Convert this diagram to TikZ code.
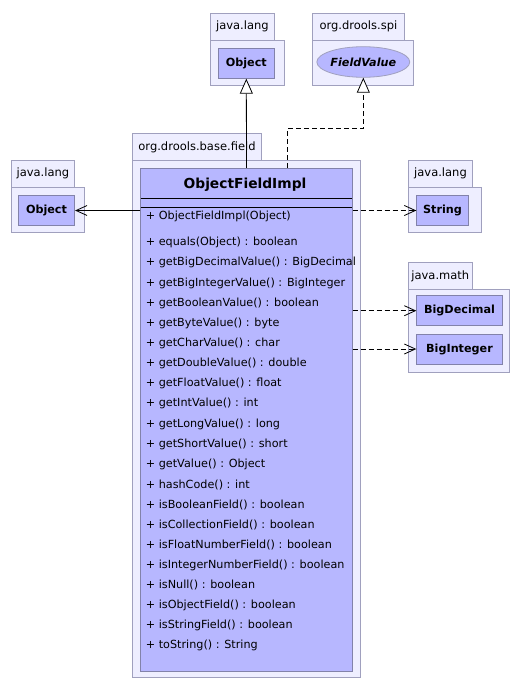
\documentclass[tikz,border=0pt]{standalone}
\usepackage{fontspec}
\setmainfont{DejaVu Sans}
\usetikzlibrary{arrows.meta,shapes.geometric}

\definecolor{pkgfill}{RGB}{238,238,255}
\definecolor{pkgline}{RGB}{160,160,190}
\definecolor{clsfill}{RGB}{183,183,255}
\definecolor{clsline}{RGB}{130,130,170}

\begin{document}
\begin{tikzpicture}
[
	x	= 1pt,	% one unit per pixel of the layout
	y	= -1pt,	% rows counted downwards
	pkgbox/.style	= {draw = pkgline, fill = pkgfill, line width = 0.8pt},
	pkgname/.style	= {inner sep = 0pt, font = \fontsize{11.5}{13}\selectfont},
	clsbox/.style	= {shape = rectangle, draw = clsline, fill = clsfill, line width = 0.8pt, inner sep = 0pt, font = \bfseries\fontsize{11.2}{13}\selectfont},
	ifbox/.style	= {shape = ellipse, draw = pkgline, fill = clsfill, line width = 0.8pt, inner sep = 0pt, font = \bfseries\itshape\fontsize{11.2}{13}\selectfont},
	member/.style	= {anchor = west, inner sep = 0pt, font = \fontsize{11.2}{13}\selectfont},
	inherit/.style	= {line width = 0.8pt, -{Triangle[open, length = 15pt, width = 13pt, fill = white]}},
	uses/.style	= {line width = 0.8pt, -{Straight Barb[length = 11pt, width = 10pt]}},
	dashline/.style	= {dash pattern = on 5pt off 3pt},
]

{
	\useasboundingbox [fill = white] (0,0) rectangle (521,693);

	% packages
	\draw [pkgbox] (210.7,13.3) rectangle (274,40);
	\draw [pkgbox] (210.7,40) rectangle (284.3,85);
	\node (lLangTop) [pkgname] at (242.4,26.7) {java.lang};

	\draw [pkgbox] (312.7,13.3) rectangle (404,40);
	\draw [pkgbox] (312.7,40) rectangle (413.3,85);
	\node (lSpi) [pkgname] at (358.4,26.7) {org.drools.spi};

	\draw [pkgbox] (132.3,133.3) rectangle (261.7,160.7);
	\draw [pkgbox] (132.3,160.7) rectangle (360,677.7);
	\node (lField) [pkgname] at (197,147) {org.drools.base.field};

	\draw [pkgbox] (11.7,160) rectangle (74,187.3);
	\draw [pkgbox] (11.7,187.3) rectangle (84.3,232.7);
	\node (lLangLeft) [pkgname] at (42.9,173.7) {java.lang};

	\draw [pkgbox] (408.3,160) rectangle (472.7,187.3);
	\draw [pkgbox] (408.3,187.3) rectangle (481.7,232.7);
	\node (lLangRight) [pkgname] at (440.5,173.7) {java.lang};

	\draw [pkgbox] (408.3,262.7) rectangle (472.3,289.3);
	\draw [pkgbox] (408.3,289.3) rectangle (509.3,372.3);
	\node (lMath) [pkgname] at (440.3,276) {java.math};

	% nodes declaration
	\node (nObjTop) [clsbox, minimum width = 56pt, minimum height = 30pt] at (246.3,63.3) {Object};
	\node (nFieldValue) [ifbox, minimum width = 86.7pt, minimum height = 30.6pt] at (363.3,62) {FieldValue};
	\node (nObjLeft) [clsbox, minimum width = 56.4pt, minimum height = 29.6pt] at (46.5,210.5) {Object};
	\node (nString) [clsbox, minimum width = 51.6pt, minimum height = 29.6pt] at (442.5,210.5) {String};
	\node (nBigDec) [clsbox, minimum width = 85.6pt, minimum height = 30pt] at (459.5,310.7) {BigDecimal};
	\node (nBigInt) [clsbox, minimum width = 85.6pt, minimum height = 30pt] at (459.5,349) {BigInteger};

	\node (nImpl) [clsbox, minimum width = 211.6pt, minimum height = 502.7pt] at (246.5,419.7) {};
	\node (nTitle) [inner sep = 0pt, font = \bfseries\fontsize{13.8}{16}\selectfont] at (245,185) {ObjectFieldImpl};
	\draw [line width = 0.8pt] (140.7,198.3) -- (352.3,198.3);
	\draw [line width = 0.8pt] (140.7,207.3) -- (352.3,207.3);

	\node (mCtor) [member] at (145.7,216.7) {+ ObjectFieldImpl(Object)};
	\foreach \m [count = \i] in {
		+ equals(Object) : boolean,
		+ getBigDecimalValue() : BigDecimal,
		+ getBigIntegerValue() : BigInteger,
		+ getBooleanValue() : boolean,
		+ getByteValue() : byte,
		+ getCharValue() : char,
		+ getDoubleValue() : double,
		+ getFloatValue() : float,
		+ getIntValue() : int,
		+ getLongValue() : long,
		+ getShortValue() : short,
		+ getValue() : Object,
		+ hashCode() : int,
		+ isBooleanField() : boolean,
		+ isCollectionField() : boolean,
		+ isFloatNumberField() : boolean,
		+ isIntegerNumberField() : boolean,
		+ isNull() : boolean,
		+ isObjectField() : boolean,
		+ isStringField() : boolean,
		+ toString() : String}
		\node (m\i) [member] at (145.7,222.55+20.15*\i) {\m};

	\coordinate (cBend) at (287.7,128.3);

	% edges declaration
	\draw [inherit] (nImpl.north) -- (nObjTop.south);
	\draw [inherit, dashline] (cBend |- nImpl.north) -- (cBend) -| (nFieldValue.south);
	\draw [uses] (nObjLeft.east -| nImpl.west) -- (nObjLeft.east);
	\draw [uses, dashline] (nImpl.east |- nString.west) -- (nString.west);
	\draw [uses, dashline] (nImpl.east |- nBigDec.west) -- (nBigDec.west);
	\draw [uses, dashline] (nImpl.east |- nBigInt.west) -- (nBigInt.west);
}

\end{tikzpicture}
\end{document}
